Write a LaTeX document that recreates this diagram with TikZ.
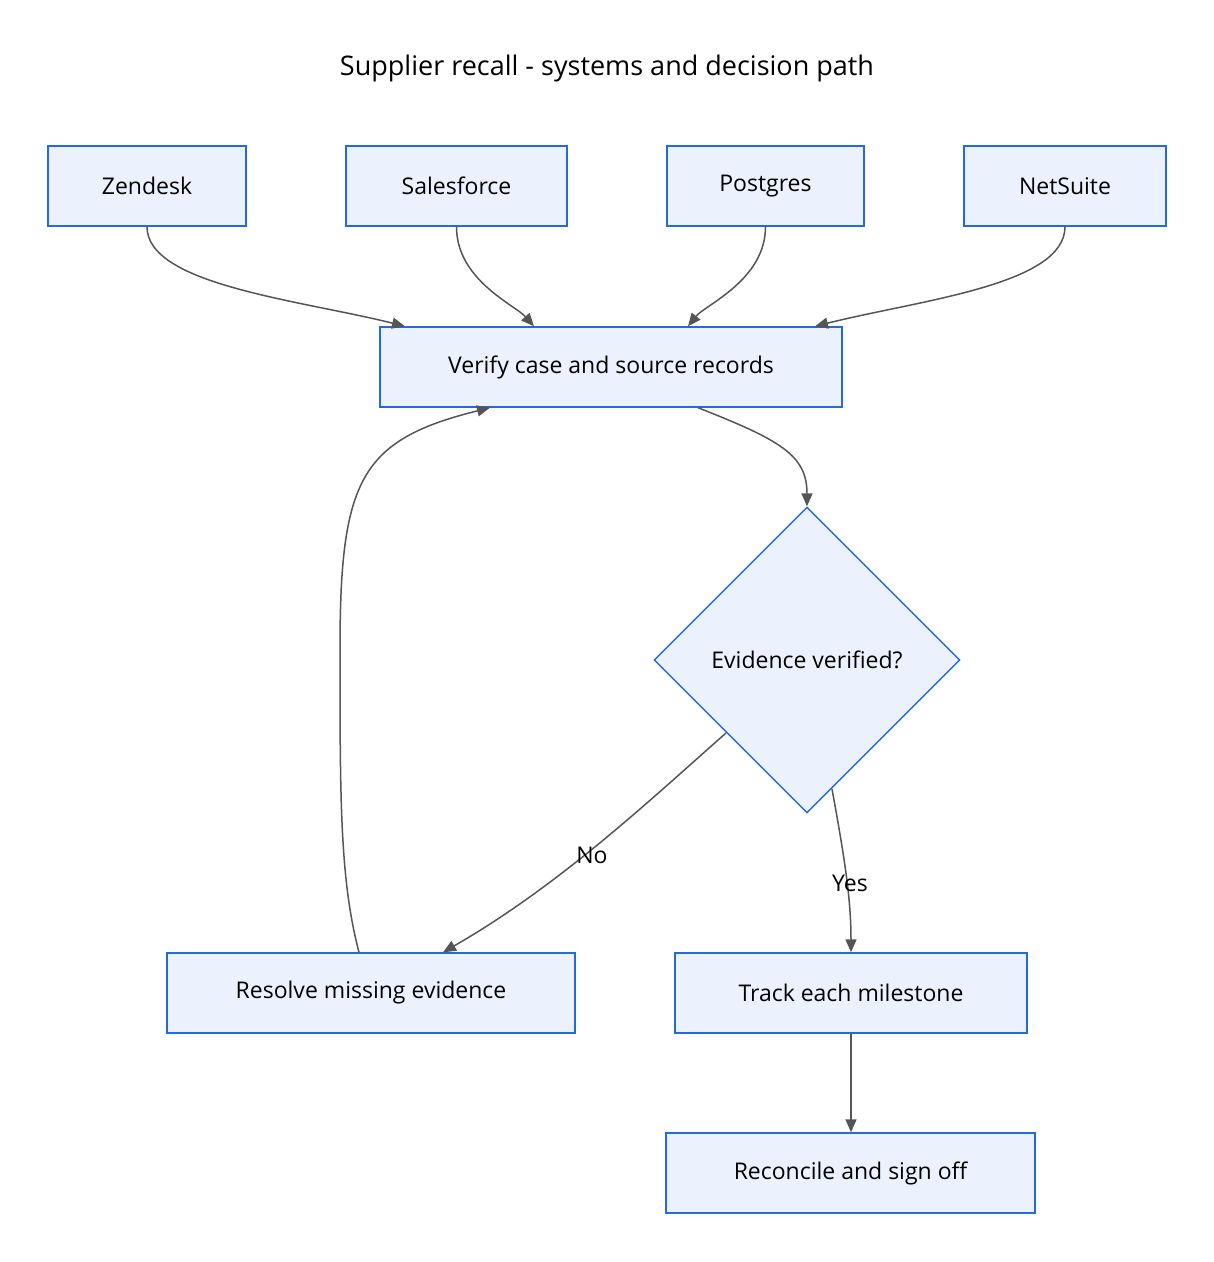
\documentclass[tikz,border=0pt]{standalone}
\usepackage{fontspec}
\setmainfont{Open Sans}
\usetikzlibrary{shapes.geometric,arrows.meta,calc}
\definecolor{bfill}{HTML}{ECF2FD}
\definecolor{bdraw}{HTML}{2569E0}
\definecolor{edge}{HTML}{555555}
\tikzset{
 x=1pt,y=-1pt,
 box/.style={draw=bdraw,fill=bfill,line width=1.4pt,minimum height=80pt,inner sep=0pt,font=\fontsize{23}{27}\selectfont},
 dia/.style={diamond,draw=bdraw,fill=bfill,line width=1.4pt,minimum width=306pt,minimum height=306pt,inner sep=0pt,font=\fontsize{23}{27}\selectfont},
 conn/.style={draw=edge,line width=1.5pt,-{Triangle[length=13pt,width=11pt]}},
 lbl/.style={font=\fontsize{23}{27}\selectfont,text=black}
}
\begin{document}
\begin{tikzpicture}
\useasboundingbox (0,0) rectangle (1214,1262);
\node[font=\fontsize{27}{32}\selectfont] (t) at (607,68) {Supplier recall - systems and decision path};
\node[box,minimum width=198pt] (z) at (147,186) {Zendesk};
\node[box,minimum width=221pt] (s) at (456.5,186) {Salesforce};
\node[box,minimum width=197pt] (p) at (765.5,186) {Postgres};
\node[box,minimum width=202pt] (n) at (1065,186) {NetSuite};
\node[box,minimum width=462pt] (v) at (611,367) {Verify case and source records};
\node[dia] (d) at (807,660) {Evidence verified?};
\node[box,minimum width=408pt] (r) at (371,993) {Resolve missing evidence};
\node[box,minimum width=352pt] (k) at (851,993) {Track each milestone};
\node[box,minimum width=369pt] (c) at (850.5,1173) {Reconcile and sign off};
\draw[conn] (z.south) .. controls (147,285) and (300,300) .. ($(v.north)+(-206,0)$);
\draw[conn] (s.south) .. controls (456.5,280) and (515,305) .. ($(v.north)+(-77,0)$);
\draw[conn] (p.south) .. controls (765.5,280) and (705,305) .. ($(v.north)+(77,0)$);
\draw[conn] (n.south) .. controls (1065,285) and (920,300) .. ($(v.north)+(204,0)$);
\draw[conn] ($(v.south)+(87,0)$) .. controls (780,440) and (807,455) .. (d.north);
\draw[conn] ($(d.center)+(-81,73)$) .. controls (650,800) and (560,885) .. ($(r.north)+(72,0)$);
\draw[conn] ($(d.center)+(25,129)$) .. controls (845,860) and (851,900) .. (k.north);
\draw[conn] ($(r.north)+(-12,0)$) .. controls (340,880) and (340,800) .. (340,650) .. controls (340,480) and (360,440) .. ($(v.south)+(-121,0)$);
\draw[conn] (k.south) -- (k.south|-c.north);
\node[lbl] (no) at (592,855) {No};
\node[lbl] (yes) at (850,883) {Yes};
\end{tikzpicture}
\end{document}
